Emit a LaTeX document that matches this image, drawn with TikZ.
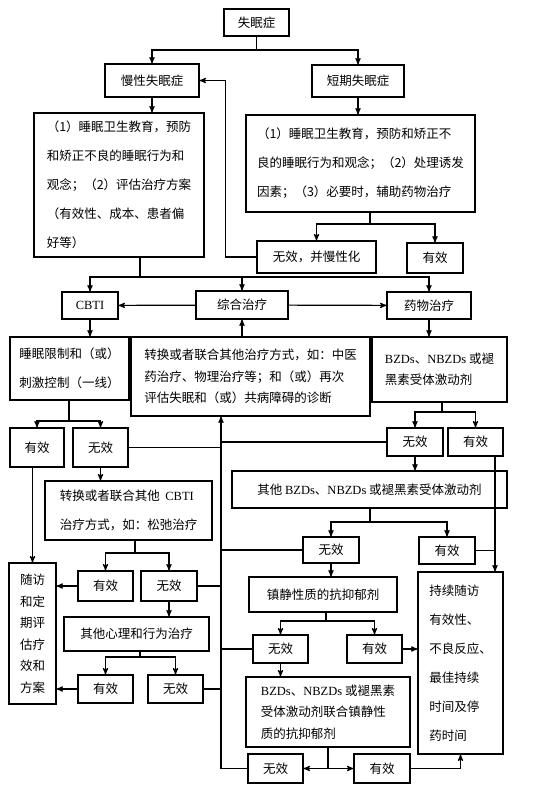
\documentclass[tikz,border=0pt]{standalone}
\usepackage{fontspec}
\setmainfont{Noto Sans CJK SC}
\newfontfamily\westfont{Liberation Serif}
\usetikzlibrary{arrows}
\tikzset{
    %Define standard arrow tip
    >=stealth',
    kasten/.style={
      rectangle,
      draw=black, line width=1.2pt,
      inner sep=0pt,
      font=\fontsize{12.5}{15}\selectfont,
      align=center},
    absatz/.style={
      kasten,
      align=left},
    weit/.style={font=\fontsize{12.5}{29}\selectfont},
    eng/.style={font=\fontsize{12.5}{21.5}\selectfont},
}

\begin{document}
\begin{tikzpicture}[x=1pt,y=-1pt,line width=1.2pt]
    \useasboundingbox (0,0) rectangle (554,797);
    % columns of the long lines
    \coordinate (spine) at (221,0);
    \coordinate (okline) at (495,0);

    % top
    \node (insomnia) [kasten, minimum width=65, minimum height=27] at (256.5,22.5)
          {失眠症};
    \node (chronic) [kasten, minimum width=94, minimum height=33] at (152,80.5)
          {慢性失眠症};
    \node (acute) [kasten, minimum width=92, minimum height=32] at (358,81)
          {短期失眠症};
    \node (chronictext) [absatz, weit, minimum width=170, minimum height=144] at (119,185)
          {（1）睡眠卫生教育，预防\\和矫正不良的睡眠行为和\\观念；（2）评估治疗方案\\（有效性、成本、患者偏\\好等）};
    \node (acutetext) [absatz, weit, minimum width=229, minimum height=97] at (360.5,163.5)
          {（1）睡眠卫生教育，预防和矫正不\\良的睡眠行为和观念；（2）处理诱发\\因素；（3）必要时，辅助药物治疗};
    \node (chronicfail) [kasten, minimum width=119, minimum height=32] at (316.5,257)
          {无效，并慢性化};
    \node (acuteok) [kasten, minimum width=56, minimum height=30] at (435,258)
          {有效};

    % three ways
    \node (cbti) [kasten, minimum width=56, minimum height=27] at (90,305.5)
          {\westfont CBTI};
    \node (combined) [kasten, minimum width=92, minimum height=28] at (242,305)
          {综合治疗};
    \node (drug) [kasten, minimum width=84, minimum height=27] at (429,305.5)
          {药物治疗};
    \node (restrict) [kasten, weit, minimum width=119, minimum height=63] at (69.5,368.5)
          {睡眠限制和（或）\\刺激控制（一线）};
    \node (switchall) [absatz, eng, minimum width=239, minimum height=79] at (250.5,376.5)
          {转换或者联合其他治疗方式，如：中医\\药治疗、物理治疗等；和（或）再次\\评估失眠和（或）共病障碍的诊断};
    \node (bzd) [absatz, eng, minimum width=135, minimum height=65] at (439.5,369.5)
          {{\westfont BZDs}、{\westfont NBZDs} 或褪\\黑素受体激动剂};

    % CBTI side
    \node (cbtiok1) [kasten, minimum width=54, minimum height=39] at (37,447.5)
          {有效};
    \node (cbtifail1) [kasten, minimum width=55, minimum height=39] at (100.5,447.5)
          {无效};
    \node (switchcbti) [absatz, weit, minimum width=167, minimum height=59] at (128.5,510.5)
          {转换或者联合其他\ \ {\westfont CBTI}\\治疗方式，如：松弛治疗};
    \node (cbtiok2) [kasten, minimum width=55, minimum height=30] at (105.5,586)
          {有效};
    \node (cbtifail2) [kasten, minimum width=56, minimum height=30] at (169,586)
          {无效};
    \node (followup) [kasten, eng, minimum width=47, minimum height=141] at (32.5,633.5)
          {随访\\和定\\期评\\估疗\\效和\\方案};
    \node (psych) [kasten, minimum width=145, minimum height=34] at (136.5,634)
          {其他心理和行为治疗};
    \node (cbtiok3) [kasten, minimum width=55, minimum height=28] at (105.5,689)
          {有效};
    \node (cbtifail3) [kasten, minimum width=55, minimum height=28] at (175.5,689)
          {无效};

    % drug side
    \node (drugfail1) [kasten, minimum width=56, minimum height=28] at (415,442)
          {无效};
    \node (drugok1) [kasten, minimum width=55, minimum height=28] at (475.5,442)
          {有效};
    \node (otherbzd) [kasten, minimum width=275, minimum height=37] at (369.5,489.5)
          {其他 {\westfont BZDs}、{\westfont NBZDs} 或褪黑素受体激动剂};
    \node (drugfail2) [kasten, minimum width=56, minimum height=26] at (331,550)
          {无效};
    \node (drugok2) [kasten, minimum width=56, minimum height=27] at (447,550.5)
          {有效};
    \node (sedative) [kasten, minimum width=148, minimum height=35] at (323,594.5)
          {镇静性质的抗抑郁剂};
    \node (drugfail3) [kasten, minimum width=55, minimum height=28] at (280.5,649)
          {无效};
    \node (drugok3) [kasten, minimum width=55, minimum height=28] at (374.5,649)
          {有效};
    \node (sustain) [absatz, weit, minimum width=85, minimum height=182] at (460.5,663)
          {持续随访\\有效性、\\不良反应、\\最佳持续\\时间及停\\药时间};
    \node (combo) [absatz, eng, minimum width=164, minimum height=70] at (328,712)
          {{\westfont BZDs}、{\westfont NBZDs} 或褪黑素\\受体激动剂联合镇静性\\质的抗抑郁剂};
    \node (drugfail4) [kasten, minimum width=55, minimum height=29] at (275.5,768.5)
          {无效};
    \node (drugok4) [kasten, minimum width=56, minimum height=29] at (382,768.5)
          {有效};

    % branch points
    \coordinate (split0) at (256.5,50);
    \coordinate (split1) at (370,224);
    \coordinate (split2) at (140,277);
    \coordinate (split3) at (69,421);
    \coordinate (split4) at (135,553);
    \coordinate (split5) at (140,657);
    \coordinate (split6) at (442,412);
    \coordinate (split7) at (370,522);
    \coordinate (split8) at (326,621);
    \coordinate (split9) at (328,768.5);

    \draw (insomnia) -- (split0);
    \draw [->] (split0) -| (chronic);
    \draw [->] (split0) -| (acute);
    \draw [->] (chronic) -- (chronic |- chronictext.north);
    \draw [->] (acute) -- (acute |- acutetext.north);
    \draw (acutetext.south -| split1) -- (split1);
    \draw [->] (split1) -| (chronicfail);
    \draw [->] (split1) -| (acuteok);
    \draw [->] (chronicfail.west) -- ++(-31,0) |- (chronic);
    \draw (chronictext.south -| split2) -- (split2);
    \draw [->] (split2) -| (cbti);
    \draw [->] (split2) -| (drug);
    \draw [->] (split2 -| combined) -- (combined);
    \draw [->] (combined) -- (cbti);
    \draw [->] (combined) -- (drug);
    \draw [->] (switchall.north -| combined) -- (combined);
    \draw [->] (cbti) -- (cbti |- restrict.north);
    \draw [->] (drug) -- (drug |- bzd.north);

    % CBTI side
    \draw (restrict.south -| split3) -- (split3);
    \draw [->] (split3) -| (cbtiok1);
    \draw [->] (split3) -| (cbtifail1);
    \draw [->] (cbtiok1.south -| followup) -- (followup);
    \draw [->] (cbtifail1) -- (cbtifail1 |- switchcbti.north);
    \draw (switchcbti.south -| split4) -- (split4);
    \draw [->] (split4) -| (cbtiok2);
    \draw [->] (split4) -| (cbtifail2);
    \draw [->] (cbtiok2) -- (cbtiok2 -| followup.east);
    \draw [->] (cbtifail2) -- (cbtifail2 |- psych.north);
    \draw (psych.south -| split5) -- (split5);
    \draw [->] (split5) -| (cbtiok3);
    \draw [->] (split5) -| (cbtifail3);
    \draw [->] (cbtiok3) -- (cbtiok3 -| followup.east);

    % drug side
    \draw (bzd.south -| split6) -- (split6);
    \draw [->] (split6) -| (drugfail1);
    \draw [->] (split6) -| (drugok1);
    \draw [->] (drugfail1) -- (drugfail1 |- otherbzd.north);
    \draw [->] (drugok1.south -| okline) -- (sustain.north -| okline);
    \draw (otherbzd.south -| split7) -- (split7);
    \draw [->] (split7) -| (drugfail2);
    \draw [->] (split7) -| (drugok2);
    \draw (drugok2) -- (drugok2 -| okline);
    \draw [->] (drugfail2) -- (drugfail2 |- sedative.north);
    \draw (sedative.south -| split8) -- (split8);
    \draw [->] (split8) -| (drugfail3);
    \draw [->] (split8) -| (drugok3);
    \draw [->] (drugok3) -- (drugok3 -| sustain.west);
    \draw [->] (drugfail3) -- (drugfail3 |- combo.north);
    \draw (combo.south -| split9) -- (split9);
    \draw [->] (split9) -- (drugfail4);
    \draw [->] (split9) -- (drugok4);
    \draw [->] (drugok4) -| (sustain);

    % back to the combined treatment
    \draw [->] (drugfail4) -- (drugfail4 -| spine) -- (switchall.south -| spine);
    \draw (cbtifail1) -- (cbtifail1 -| spine);
    \draw (cbtifail2) -- (cbtifail2 -| spine);
    \draw (cbtifail3) -- (cbtifail3 -| spine);
    \draw (drugfail1) -- (drugfail1 -| spine);
    \draw (drugfail2) -- (drugfail2 -| spine);
    \draw (drugfail3) -- (drugfail3 -| spine);
\end{tikzpicture}
\end{document}
